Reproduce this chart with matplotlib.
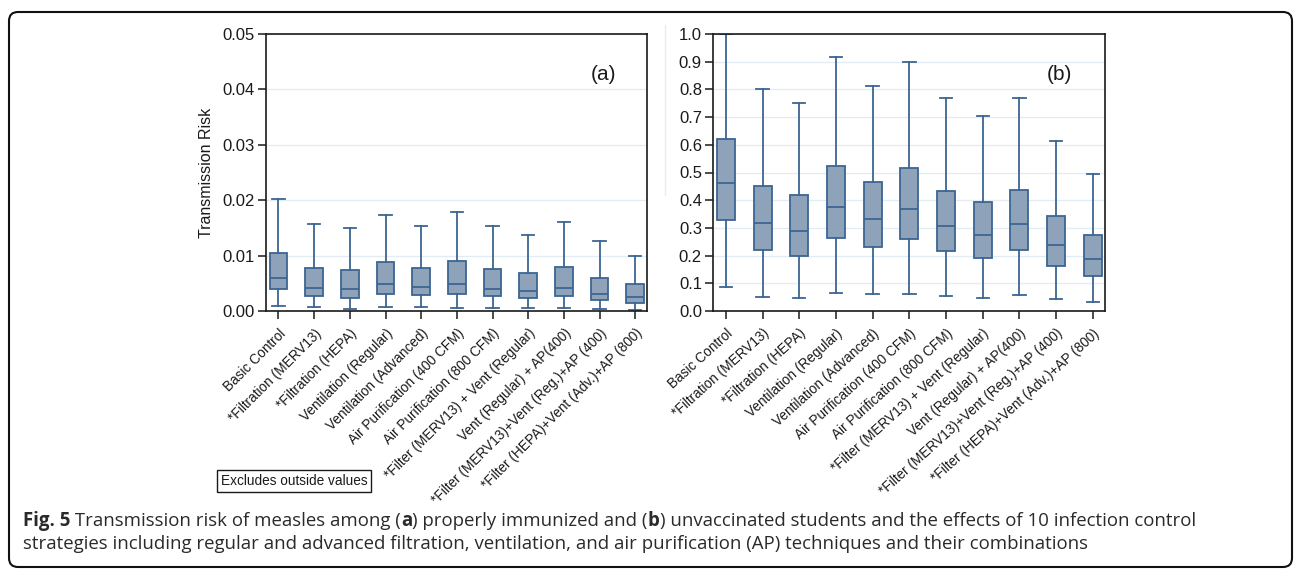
import matplotlib
matplotlib.use("Agg")
import matplotlib.pyplot as plt
from matplotlib import font_manager
from matplotlib.patches import FancyBboxPatch
from matplotlib.lines import Line2D
from matplotlib.transforms import IdentityTransform

# strategies on the x axis
strategies = [
    "Basic Control",
    "*Filtration (MERV13)",
    "*Filtration (HEPA)",
    "Ventilation (Regular)",
    "Ventilation (Advanced)",
    "Air Purification (400 CFM)",
    "Air Purification (800 CFM)",
    "*Filter (MERV13) + Vent (Regular)",
    "Vent (Regular) + AP(400)",
    "*Filter (MERV13)+Vent (Reg.)+AP (400)",
    "*Filter (HEPA)+Vent (Adv.)+AP (800)",
]

# (a) properly immunized students
a_whislo = [0.0009, 0.0007, 0.0004, 0.0008, 0.0007, 0.0005, 0.0005, 0.0005, 0.0005, 0.0004, 0.0002]
a_q1 = [0.0040, 0.0027, 0.0024, 0.0031, 0.0028, 0.0031, 0.0027, 0.0023, 0.0027, 0.0020, 0.0015]
a_med = [0.0060, 0.0042, 0.0039, 0.0049, 0.0043, 0.0049, 0.0040, 0.0036, 0.0041, 0.0031, 0.0025]
a_q3 = [0.0104, 0.0078, 0.0074, 0.0089, 0.0077, 0.0090, 0.0076, 0.0068, 0.0079, 0.0060, 0.0048]
a_whishi = [0.0202, 0.0157, 0.0150, 0.0174, 0.0153, 0.0178, 0.0153, 0.0138, 0.0160, 0.0126, 0.0100]

# (b) unvaccinated students
b_whislo = [0.085, 0.051, 0.047, 0.064, 0.062, 0.062, 0.053, 0.047, 0.057, 0.045, 0.033]
b_q1 = [0.330, 0.222, 0.199, 0.262, 0.232, 0.261, 0.217, 0.192, 0.222, 0.164, 0.127]
b_med = [0.461, 0.319, 0.290, 0.377, 0.332, 0.370, 0.308, 0.274, 0.314, 0.239, 0.188]
b_q3 = [0.621, 0.452, 0.418, 0.524, 0.464, 0.516, 0.435, 0.395, 0.438, 0.342, 0.274]
b_whishi = [1.000, 0.800, 0.751, 0.917, 0.814, 0.900, 0.769, 0.704, 0.769, 0.614, 0.496]

a_ticks = [0.00, 0.01, 0.02, 0.03, 0.04, 0.05]
b_ticks = [0.0, 0.1, 0.2, 0.3, 0.4, 0.5, 0.6, 0.7, 0.8, 0.9, 1.0]

# caption pieces: (text, bold)
caption_1 = [("Fig. 5", True), (" Transmission risk of measles among (", False), ("a", True),
             (") properly immunized and (", False), ("b", True),
             (") unvaccinated students and the effects of 10 infection control", False)]
caption_2 = [("strategies including regular and advanced filtration, ventilation, and air "
              "purification (AP) techniques and their combinations", False)]

installed = {f.name for f in font_manager.fontManager.ttflist}
cap_font = "Open Sans" if "Open Sans" in installed else "DejaVu Sans"

plt.rcParams["font.family"] = ["Liberation Sans", "DejaVu Sans"]

FILL = "#8ea3ba"
EDGE = "#3c6592"

W, H = 1295, 569
fig = plt.figure(figsize=(W / 100, H / 100), dpi=100)


def make_stats(lo, q1, med, q3, hi):
    return [dict(whislo=lo[i], q1=q1[i], med=med[i], q3=q3[i], whishi=hi[i], fliers=[])
            for i in range(len(med))]


def draw_panel(rect, stats, ticks, fmt, ylim, tag, rot):
    ax = fig.add_axes(rect)
    pos = list(range(1, len(stats) + 1))
    ax.bxp(stats, positions=pos, widths=0.49, capwidths=0.34, patch_artist=True,
           showfliers=False,
           boxprops=dict(facecolor=FILL, edgecolor=EDGE, linewidth=1.3),
           whiskerprops=dict(color=EDGE, linewidth=1.3),
           capprops=dict(color=EDGE, linewidth=1.3),
           medianprops=dict(color=EDGE, linewidth=1.3))
    ax.set_xlim(0.65, len(stats) + 0.33)
    ax.set_ylim(*ylim)
    ax.set_yticks(ticks)
    ax.set_yticklabels([fmt.format(t) for t in ticks], fontsize=12, color="#1a1a1a")
    ax.set_xticks(pos)
    ax.set_xticklabels(strategies, rotation=rot, ha="right", rotation_mode="anchor",
                       fontsize=9.8, color="#1a1a1a")
    ax.tick_params(axis="both", length=6, width=1.1, color="#1a1a1a", direction="out")
    ax.tick_params(axis="x", pad=5)
    ax.tick_params(axis="y", pad=2)
    ax.yaxis.grid(True, color="#e2ecf4", linewidth=1.0)
    ax.set_axisbelow(True)
    for s in ax.spines.values():
        s.set_color("#1a1a1a")
        s.set_linewidth(1.2)
    ax.text(0.885, 0.855, tag, transform=ax.transAxes, fontsize=15,
            ha="center", va="center", color="#1a1a1a")
    return ax


ax1 = draw_panel([266 / W, 1 - 311 / H, 381 / W, 277 / H],
                 make_stats(a_whislo, a_q1, a_med, a_q3, a_whishi),
                 a_ticks, "{:.2f}", (0, 0.05), "(a)", 45)
ax1.set_ylabel("Transmission Risk", fontsize=11.5, color="#1a1a1a", labelpad=6)

ax2 = draw_panel([713 / W, 1 - 311 / H, 392 / W, 277 / H],
                 make_stats(b_whislo, b_q1, b_med, b_q3, b_whishi),
                 b_ticks, "{:.1f}", (0, 1.0), "(b)", 42)

fig.text(294 / W, 1 - 481 / H, "Excludes outside values", fontsize=9.8,
         ha="center", va="center", color="#1a1a1a",
         bbox=dict(boxstyle="square,pad=0.3", facecolor="white",
                   edgecolor="#1a1a1a", linewidth=1.0))

# faint divider left of panel (b)
fig.add_artist(Line2D([665 / W, 665 / W], [1 - 25 / H, 1 - 195 / H],
                      color="#ececec", linewidth=1.0))


def caption_line(pieces, x0, y0, size):
    renderer = fig.canvas.get_renderer()
    x = x0
    for txt, bold in pieces:
        t = fig.text(x / W, 1 - y0 / H, txt, fontsize=size, family=cap_font,
                     fontweight="bold" if bold else "normal",
                     ha="left", va="baseline", color="#2a2a2a")
        x += t.get_window_extent(renderer).width


caption_line(caption_1, 23, 526, 13.4)
caption_line(caption_2, 23, 549, 13.4)

frame = FancyBboxPatch((9, H - 567), 1283, 555,
                       boxstyle="round,pad=0,rounding_size=9",
                       transform=IdentityTransform(), facecolor="none",
                       edgecolor="#111111", linewidth=1.5)
fig.patches.append(frame)

fig.savefig("out.png", dpi=100)
